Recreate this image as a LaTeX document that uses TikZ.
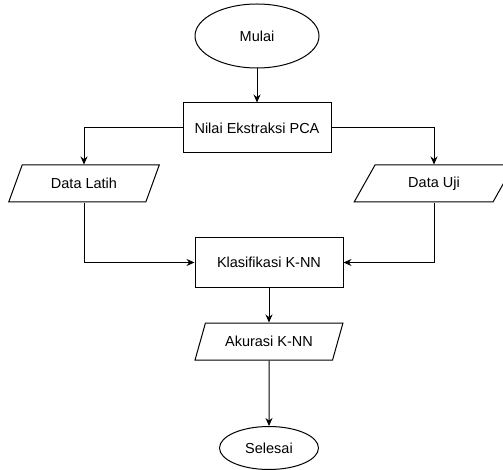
\documentclass[tikz,border=0pt]{standalone}
\usepackage{fontspec}
\setmainfont{Liberation Sans}
\usetikzlibrary{shapes.geometric,arrows.meta}

\begin{document}
\begin{tikzpicture}[x=1pt,y=-1pt,line width=1pt,
   font=\fontsize{14.5}{17}\selectfont,
   oval/.style={draw,ellipse,inner sep=0pt},
   proses/.style={draw,rectangle,inner sep=0pt},
   io/.style={draw,trapezium,trapezium left angle=56,trapezium right angle=124,
      trapezium stretches=true,inner sep=0pt,minimum height=37pt},
   panah/.style={-{Stealth[length=8pt,width=7pt]}}]
   \useasboundingbox (0,0) rectangle (503,470);
   \node[oval,minimum width=124pt,minimum height=64pt] (mulai) at (257,36) {Mulai};
   \node[proses,minimum width=148pt,minimum height=50pt] (pca) at (257,128) {Nilai Ekstraksi PCA};
   \node[io,minimum width=151pt] (latih) at (84,183.5) {Data Latih};
   \node[io,minimum width=160pt] (uji) at (434,183.5) {Data Uji};
   \node[proses,minimum width=148pt,minimum height=49pt] (knn) at (269,262.5) {Klasifikasi K-NN};
   \node[io,minimum width=148pt] (akurasi) at (269,341.5) {Akurasi K-NN};
   \node[oval,minimum width=99pt,minimum height=43pt] (selesai) at (269,448) {Selesai};
   \draw[panah] (mulai) -- (pca);
   \draw[panah] (pca.west) -| (latih.north);
   \draw[panah] (pca.east) -| (uji.north);
   \draw[panah] (latih.south) |- (knn.west);
   \draw[panah] (uji.south) |- (knn.east);
   \draw[panah] (knn) -- (akurasi);
   \draw[panah] (akurasi) -- (selesai);
\end{tikzpicture}
\end{document}
